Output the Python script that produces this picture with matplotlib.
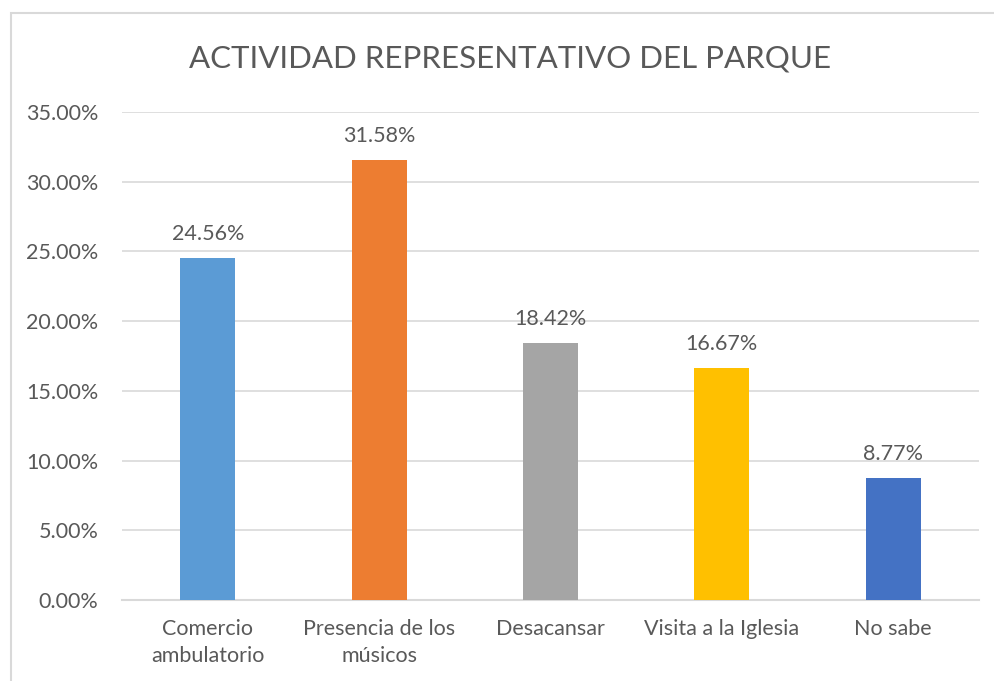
import matplotlib.pyplot as plt
from matplotlib.patches import Rectangle
from matplotlib.ticker import PercentFormatter

plt.rcParams['font.family'] = ['Lato', 'DejaVu Sans']

categories = ["Comercio\nambulatorio", "Presencia de los\nmúsicos", "Desacansar",
              "Visita a la Iglesia", "No sabe"]
values = [24.56, 31.58, 18.42, 16.67, 8.77]
colors = ["#5B9BD5", "#ED7D31", "#A5A5A5", "#FFC000", "#4472C4"]
yticks = [0, 5, 10, 15, 20, 25, 30, 35]

text_color = "#595959"
grid_color = "#D9D9D9"

fig = plt.figure(figsize=(9.94, 6.81), dpi=100)
fig.patches.append(Rectangle((10.5 / 994, -0.1), 1.2, (681 - 12.5) / 681 + 0.1,
                             transform=fig.transFigure, fill=False,
                             edgecolor=grid_color, linewidth=1.5))
ax = fig.add_axes([122 / 994, 1 - 600 / 681, (979 - 122) / 994, (600 - 112) / 681])

x = range(len(categories))
bars = ax.bar(x, values, width=0.32, color=colors, zorder=3)
for b, v in zip(bars, values):
    ax.text(b.get_x() + b.get_width() / 2, v + 1.0, f"{v:.2f}%",
            ha="center", va="bottom", fontsize=15.5, color=text_color)

ax.set_xlim(-0.5, len(categories) - 0.5)
ax.set_ylim(0, 35)
ax.set_yticks(yticks)
ax.yaxis.set_major_formatter(PercentFormatter(decimals=2))
ax.set_xticks(list(x))
ax.set_xticklabels(categories, fontsize=15.5, color=text_color, linespacing=1.4)
ax.tick_params(axis="y", labelsize=15.5, labelcolor=text_color, length=0, pad=17)
ax.tick_params(axis="x", length=0, pad=14)
ax.grid(axis="y", color=grid_color, linewidth=1.2, zorder=0)
for s in ["top", "right", "left"]:
    ax.spines[s].set_visible(False)
ax.spines["bottom"].set_color(grid_color)
ax.spines["bottom"].set_linewidth(1.5)

fig.text(510 / 994, 1 - 58 / 681, "ACTIVIDAD REPRESENTATIVO DEL PARQUE",
         ha="center", va="center", fontsize=22.5, color=text_color)

fig.savefig("out.png", dpi=100)
